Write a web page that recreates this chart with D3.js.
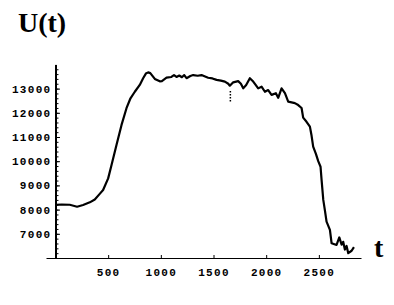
<!DOCTYPE html>
<html>
<head>
<meta charset="utf-8">
<script src="https://cdn.jsdelivr.net/npm/d3@7"></script>
<style>
  html, body { margin: 0; padding: 0; background: #fff; }
  svg { display: block; }
  .tick text { font-family: "Liberation Mono", monospace; font-weight: bold; font-size: 11px; letter-spacing: 1.3px; fill: #000; }
</style>
</head>
<body>
<div id="chart"></div>
<script>
// time samples and signal values
const tVals = [0, 60, 136, 205, 262, 326, 373, 420, 452, 500, 532, 579, 627, 674, 712, 753, 800, 832, 858, 880,
  900, 943, 990, 1010, 1054, 1100, 1125, 1149, 1175, 1200, 1222, 1244, 1280, 1307, 1350, 1386, 1420, 1449, 1490, 1529,
  1570, 1608, 1640, 1655, 1687, 1734, 1760, 1782, 1810, 1845, 1877, 1900, 1924, 1956, 1988, 2019, 2051, 2092, 2114, 2146,
  2178, 2209, 2241, 2272, 2304, 2336, 2351, 2383, 2415, 2431, 2446, 2472, 2494, 2516, 2526, 2542, 2557, 2573, 2605, 2621,
  2668, 2694, 2716, 2731, 2747, 2763, 2779, 2811, 2833];
const uVals = [8200, 8210, 8200, 8120, 8190, 8300, 8420, 8650, 8810, 9290, 9840, 10670, 11500, 12190, 12600, 12870, 13150, 13430, 13620, 13670,
  13640, 13400, 13300, 13310, 13450, 13480, 13560, 13480, 13540, 13470, 13560, 13430, 13520, 13560, 13530, 13560, 13500, 13450, 13420, 13360,
  13330, 13290, 13200, 13120, 13260, 13310, 13200, 13010, 13150, 13430, 13290, 13150, 13010, 13080, 12870, 12940, 12740, 12810, 12620, 13010,
  12810, 12460, 12430, 12400, 12320, 12200, 11800, 11630, 11430, 11050, 10600, 10300, 10000, 9770, 9220, 8400, 7980, 7500, 7160, 6610,
  6540, 6850, 6550, 6670, 6350, 6500, 6200, 6300, 6450];

// thin dotted dip near t = 1660
const dipT = [1660, 1660];
const dipU = [12900, 12470];

const xTicks = [500, 1000, 1500, 2000, 2500];
const yTicks = [7000, 8000, 9000, 10000, 11000, 12000, 13000];

const W = 394, H = 305;
const svg = d3.select('#chart').append('svg').attr('width', W).attr('height', H);

const x = d3.scaleLinear().domain([-90, 2900]).range([46, 361]);
const y = d3.scaleLinear().domain([6000, 14000]).range([258, 64.4]);

// x axis
const xAxis = svg.append('g')
  .attr('transform', `translate(0,${y(6000)})`)
  .call(d3.axisBottom(x).tickValues(xTicks).tickSize(-3).tickSizeOuter(0).tickPadding(10).tickFormat(d3.format('d')));
xAxis.select('.domain').attr('stroke', '#000').attr('stroke-width', 1);

// y axis (minor ticks first)
svg.append('g')
  .attr('transform', `translate(${x(0)},0)`)
  .call(d3.axisLeft(y).tickValues(d3.range(6200, 14000, 200)).tickSize(-3).tickSizeOuter(0).tickFormat(''))
  .call(g => g.select('.domain').remove());

const yAxis = svg.append('g')
  .attr('transform', `translate(${x(0)},0)`)
  .call(d3.axisLeft(y).tickValues(yTicks).tickSize(-4.5).tickSizeOuter(0).tickPadding(4).tickFormat(d3.format('d')));
yAxis.select('.domain').attr('stroke', '#000').attr('stroke-width', 2);

svg.selectAll('.tick line').attr('stroke', '#000');

// data line
const pts = tVals.map((t, i) => [t, uVals[i]]);
const line = d3.line().x(d => x(d[0])).y(d => y(d[1]));
svg.append('path')
  .datum(pts)
  .attr('d', line)
  .attr('fill', 'none')
  .attr('stroke', '#000')
  .attr('stroke-width', 2.2)
  .attr('stroke-linejoin', 'round');

svg.append('path')
  .datum(dipT.map((t, i) => [t, dipU[i]]))
  .attr('d', line)
  .attr('fill', 'none')
  .attr('stroke', '#000')
  .attr('stroke-width', 1.5)
  .attr('stroke-dasharray', '1.5,1.5');

// axis titles
svg.append('text')
  .attr('x', 18).attr('y', 32)
  .style('font-family', '"Liberation Serif", serif')
  .style('font-weight', 'bold')
  .style('font-size', '28px')
  .text('U(t)');

svg.append('text')
  .attr('x', 374).attr('y', 257)
  .style('font-family', '"Liberation Serif", serif')
  .style('font-weight', 'bold')
  .style('font-size', '28px')
  .text('t');
</script>
</body>
</html>
